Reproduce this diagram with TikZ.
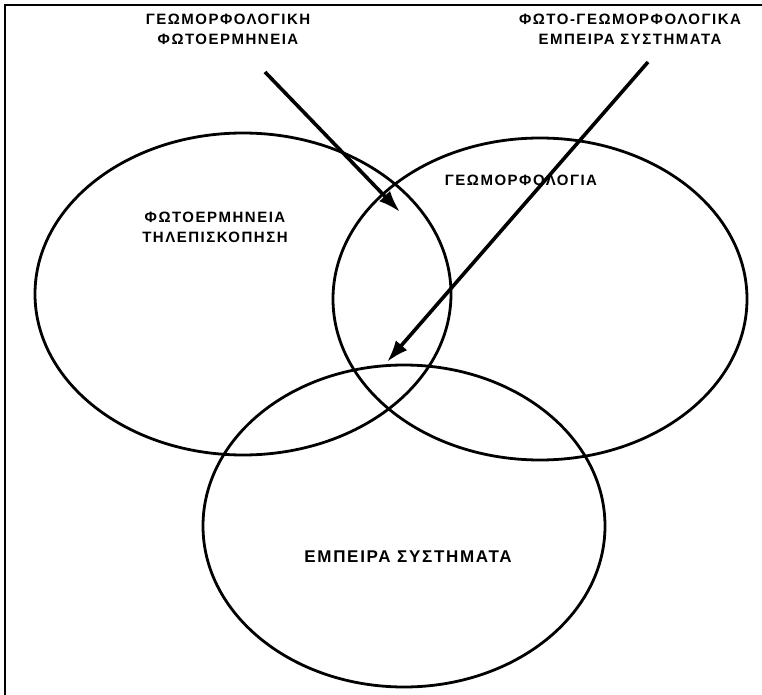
\documentclass[tikz,border=0pt]{standalone}
\usepackage{fontspec}
\setmainfont{Liberation Sans}[LetterSpace=10]
\usetikzlibrary{shapes.geometric,arrows.meta}
\begin{document}
\begin{tikzpicture}[x=1pt,y=-1pt,
  venn/.style={ellipse, draw, line width=2.8pt, inner sep=0pt},
  lbl/.style={font=\bfseries\fontsize{15}{20}\selectfont, align=center, inner sep=0pt},
  arr/.style={line width=3.6pt, -{Latex[length=22pt,width=15pt]}}]
\useasboundingbox (0,0) rectangle (762,695);
\draw[line width=2.5pt] (5,695) -- (5,5) -- (762,5);
\node[venn, minimum width=416pt, minimum height=322pt] (A) at (243,294) {};
\node[venn, minimum width=414pt, minimum height=322pt] (B) at (540,299) {};
\node[venn, minimum width=402pt, minimum height=322pt] (C) at (404,526) {};
\node[lbl] (tA) at (215,227) {ΦΩΤΟΕΡΜΗΝΕΙΑ\\ΤΗΛΕΠΙΣΚΟΠΗΣΗ};
\node[lbl] (tB) at (521,180) {ΓΕΩΜΟΡΦΟΛΟΓΙΑ};
\node[lbl, font=\bfseries\fontsize{17}{20}\selectfont] (tC) at (408,557) {ΕΜΠΕΙΡΑ ΣΥΣΤΗΜΑΤΑ};
\node[lbl] (t1) at (228,29) {ΓΕΩΜΟΡΦΟΛΟΓΙΚΗ\\ΦΩΤΟΕΡΜΗΝΕΙΑ};
\node[lbl] (t2) at (630,29) {ΦΩΤΟ-ΓΕΩΜΟΡΦΟΛΟΓΙΚΑ\\ΕΜΠΕΙΡΑ ΣΥΣΤΗΜΑΤΑ};
\coordinate (p1s) at (265,72);
\coordinate (p1e) at (400,212);
\coordinate (p2s) at (648,62);
\coordinate (p2e) at (387,362);
\draw[arr] (p1s) -- (p1e);
\draw[arr] (p2s) -- (p2e);
\end{tikzpicture}
\end{document}
